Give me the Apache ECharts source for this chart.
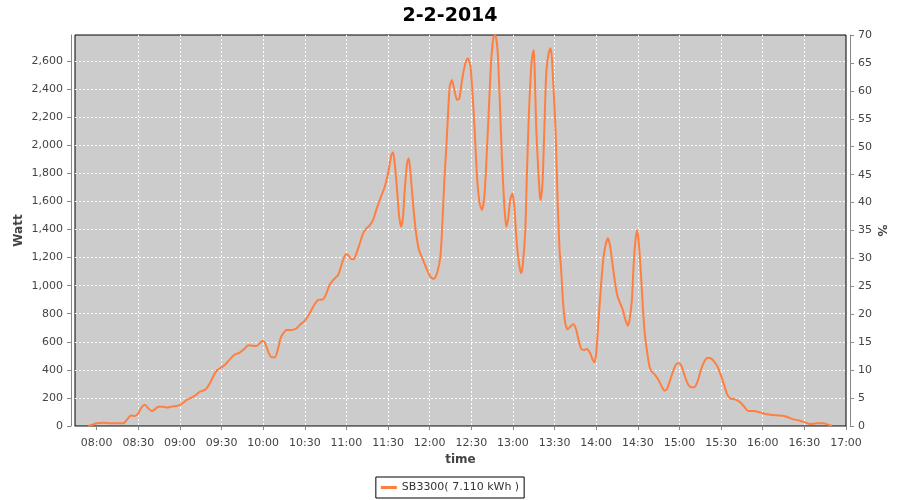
<!DOCTYPE html>
<html>
<head>
<meta charset="utf-8">
<script src="https://cdn.jsdelivr.net/npm/echarts@6/dist/echarts.min.js"></script>
<style>html,body{margin:0;padding:0;background:#fff}#c{width:900px;height:500px}</style>
</head>
<body>
<div id="c"></div>
<script>
const chartTitle = '2-2-2014';
const seriesName = 'SB3300( 7.110 kWh )';
const times = ['07:54:00','07:56:24','08:00:00','08:04:48','08:09:36','08:14:24','08:19:12','08:22:00','08:24:42','08:27:36','08:30:00','08:32:24','08:34:48','08:37:12','08:39:36','08:42:00','08:44:24','08:48:00','08:50:24','08:54:00','08:57:36','09:00:00','09:02:24','09:04:48','09:08:24','09:11:30','09:14:24','09:18:00','09:20:24','09:22:48','09:24:30','09:26:54','09:30:00','09:33:06','09:36:00','09:39:06','09:43:12','09:46:06','09:49:12','09:52:18','09:55:12','09:57:36','09:59:30','10:01:12','10:03:36','10:06:00','10:08:24','10:10:48','10:12:30','10:14:24','10:16:48','10:20:24','10:24:00','10:26:24','10:30:00','10:32:24','10:34:48','10:37:12','10:39:36','10:43:12','10:45:36','10:47:30','10:50:24','10:54:00','10:55:42','10:57:36','10:59:30','11:01:12','11:03:36','11:05:18','11:07:12','11:09:36','11:12:00','11:14:24','11:16:48','11:19:12','11:21:30','11:24:00','11:27:36','11:30:00','11:32:24','11:33:36','11:34:48','11:36:30','11:37:54','11:39:24','11:40:48','11:42:00','11:43:42','11:44:54','11:46:00','11:48:00','11:49:54','11:52:18','11:55:12','11:57:36','12:00:30','12:02:54','12:05:18','12:07:42','12:08:54','12:10:36','12:12:00','12:13:00','12:14:24','12:16:00','12:17:48','12:19:42','12:21:24','12:23:18','12:25:42','12:27:24','12:29:18','12:31:00','12:32:24','12:34:06','12:36:00','12:37:42','12:39:24','12:40:48','12:42:30','12:44:12','12:46:00','12:47:18','12:48:54','12:50:24','12:52:00','12:53:48','12:55:12','12:56:24','12:58:00','12:59:30','13:01:00','13:02:24','13:04:00','13:05:48','13:07:12','13:08:54','13:10:00','13:11:30','13:13:00','13:14:00','13:15:00','13:15:36','13:16:48','13:18:00','13:19:12','13:20:00','13:21:24','13:22:36','13:24:00','13:25:42','13:26:54','13:28:00','13:29:18','13:30:42','13:32:12','13:33:36','13:34:36','13:36:00','13:37:42','13:39:24','13:41:18','13:43:42','13:45:36','13:47:18','13:49:00','13:50:54','13:53:18','13:55:42','13:57:36','13:58:48','14:00:00','14:01:42','14:03:24','14:05:18','14:07:00','14:08:24','14:10:06','14:12:00','14:14:00','14:15:24','14:17:18','14:19:12','14:21:06','14:22:48','14:24:00','14:25:42','14:26:54','14:28:18','14:29:30','14:30:42','14:32:12','14:33:36','14:35:00','14:36:30','14:38:24','14:40:06','14:42:30','14:44:54','14:47:18','14:49:12','14:50:54','14:53:18','14:55:42','14:58:06','15:00:00','15:01:42','15:03:36','15:05:48','15:08:12','15:10:36','15:13:00','15:15:24','15:17:48','15:20:12','15:22:36','15:25:00','15:27:24','15:29:48','15:32:12','15:34:06','15:36:30','15:40:06','15:43:42','15:46:36','15:49:42','15:53:18','15:58:06','16:02:54','16:07:42','16:12:30','16:17:18','16:22:06','16:26:54','16:30:30','16:34:06','16:38:54','16:43:42','16:48:30','16:49:42'];
const watts = [0,7,19,24,19,19,19,47,74,71,90,133,152,126,107,119,138,138,131,138,143,150,166,185,202,221,245,257,285,328,363,399,418,442,475,506,523,546,575,572,570,589,608,594,530,489,489,553,625,660,684,684,696,720,751,784,827,869,898,903,945,998,1040,1076,1123,1183,1223,1218,1188,1188,1230,1300,1373,1408,1430,1468,1540,1610,1705,1800,1931,1950,1872,1681,1503,1420,1491,1681,1872,1907,1824,1586,1396,1254,1183,1123,1064,1047,1088,1206,1396,1753,1990,2180,2418,2465,2394,2323,2335,2465,2584,2620,2572,2347,2109,1777,1586,1539,1634,1872,2228,2584,2774,2786,2679,2347,1919,1563,1420,1468,1610,1658,1563,1349,1183,1088,1159,1396,1777,2228,2537,2643,2679,2560,2109,1872,1658,1610,1753,2109,2513,2655,2691,2631,2394,2109,1600,1250,1135,898,731,689,708,727,684,613,553,541,549,518,470,454,518,755,993,1206,1301,1337,1278,1135,993,922,874,827,755,715,755,898,1135,1325,1397,1302,1088,850,660,541,423,387,363,328,280,252,261,328,399,446,446,423,363,304,276,276,316,399,458,487,482,458,423,363,292,233,197,190,169,138,107,107,97,83,78,74,66,47,38,26,14,19,19,5,0];
const xTickLabels = ['08:00','08:30','09:00','09:30','10:00','10:30','11:00','11:30','12:00','12:30','13:00','13:30','14:00','14:30','15:00','15:30','16:00','16:30','17:00'];
const xMin = '07:44:24', xMax = '17:00:00';
const wattMax = 2786, wattStep = 200;
const pctMax = 70, pctStep = 5;

function toMin(s){ const p = s.split(':').map(Number); return p[0]*60 + p[1] + (p[2]||0)/60; }
function fmt(m){ const h = Math.floor(m/60), mm = Math.round(m - h*60); return String(h).padStart(2,'0')+':'+String(mm).padStart(2,'0'); }
const tickVals = xTickLabels.map(toMin);

const chart = echarts.init(document.getElementById('c'));
const lab = {color:'#444', fontFamily:'DejaVu Sans', fontSize:11};
const nameStyle = {color:'#444', fontFamily:'DejaVu Sans', fontSize:12, fontWeight:'bold'};
const grid = {show:true, showMinLine:false, showMaxLine:false, lineStyle:{color:'#fff', type:[2,2], width:1}};
chart.setOption({
  animation:false,
  title:{text:chartTitle, left:'center', top:2, textStyle:{fontFamily:'DejaVu Sans', fontWeight:'bold', fontSize:19, color:'#000'}},
  grid:{left:75, right:54, top:35, bottom:74, show:true, backgroundColor:'#cccccc', borderColor:'#000', borderWidth:1},
  legend:{bottom:2, left:'center', data:[seriesName], icon:'rect', itemWidth:16, itemHeight:3, itemGap:4,
    borderColor:'#000', borderWidth:1, padding:[5,5], textStyle:{color:'#333', fontFamily:'DejaVu Sans', fontSize:11}},
  xAxis:{type:'value', min:toMin(xMin), max:toMin(xMax),
    offset:4, name:'time', nameLocation:'middle', nameGap:23, nameTextStyle:nameStyle,
    axisLine:{lineStyle:{color:'#888'}},
    axisTick:{show:true, length:4, lineStyle:{color:'#888'}, customValues:tickVals},
    axisLabel:Object.assign({formatter:v=>fmt(v), customValues:tickVals}, lab),
    splitLine:grid},
  yAxis:[
    {type:'value', min:0, max:wattMax, interval:wattStep, offset:4, name:'Watt', nameLocation:'middle', nameGap:46, nameMoveOverlap:false, nameRotate:90, nameTextStyle:nameStyle,
     axisLine:{show:true, lineStyle:{color:'#888'}}, axisTick:{show:true, length:4, lineStyle:{color:'#888'}},
     axisLabel:Object.assign({showMaxLabel:false, formatter:v=>v.toLocaleString('en-US')}, lab),
     splitLine:grid},
    {type:'value', min:0, max:pctMax, interval:pctStep, offset:4, position:'right', name:'%', nameLocation:'middle', nameGap:25, nameMoveOverlap:false, nameRotate:-90, nameTextStyle:nameStyle,
     axisLine:{show:true, lineStyle:{color:'#888'}}, axisTick:{show:true, length:4, lineStyle:{color:'#888'}},
     axisLabel:lab, splitLine:{show:false}}
  ],
  series:[{name:seriesName, type:'line', yAxisIndex:0, showSymbol:false, smooth:0.2,
    lineStyle:{color:'#ff7f40', width:2}, itemStyle:{color:'#ff7f40'},
    data:times.map((t,i)=>[toMin(t), watts[i]])}]
});
</script>
</body>
</html>
